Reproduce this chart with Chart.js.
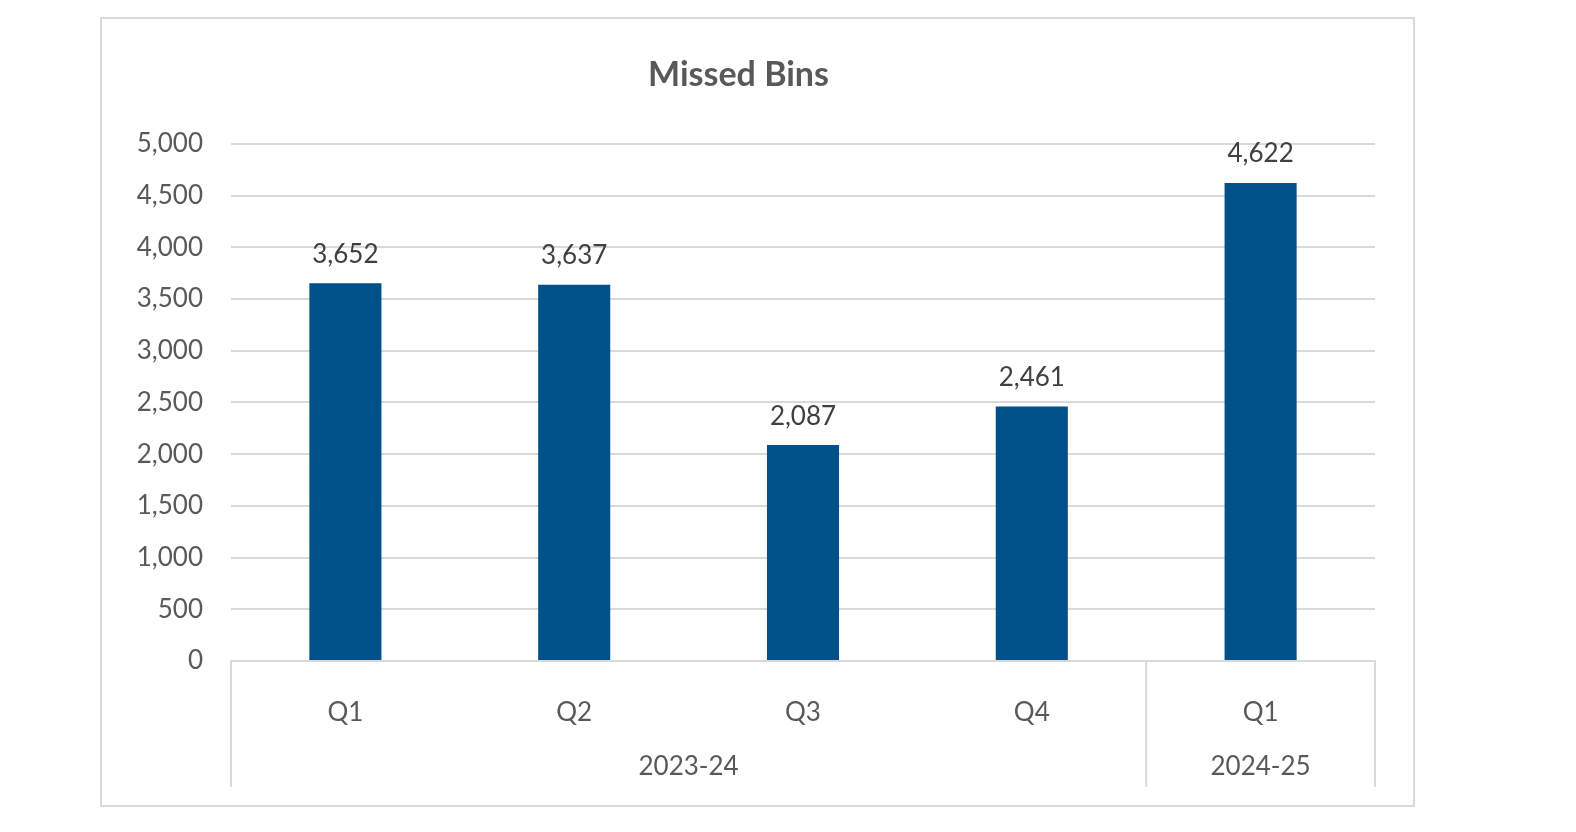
<!DOCTYPE html>
<html>
<head>
<meta charset="utf-8">
<script src="https://cdn.jsdelivr.net/npm/chart.js@4"></script>
<style>
  body { margin: 0; background: #fff; }
  #box { position: absolute; left: 100px; top: 17px; width: 1311px; height: 786px; border: 2px solid #d9d9d9; }
</style>
</head>
<body>
<div id="box"><canvas id="binsChart" width="1311" height="786"></canvas></div>
<script>
const quarters = ['Q1', 'Q2', 'Q3', 'Q4', 'Q1'];
const years = ['2023-24', '2023-24', '2023-24', '2023-24', '2024-25'];
const missedBins = [3652, 3637, 2087, 2461, 4622];

const fontFamily = 'Lato, "Open Sans", sans-serif';

// value labels above bars + year group row under the axis
const extras = {
  id: 'extras',
  afterDatasetsDraw(chart) {
    const ctx = chart.ctx;
    const meta = chart.getDatasetMeta(0);
    ctx.save();
    ctx.font = '26px ' + fontFamily;
    ctx.fillStyle = '#404040';
    ctx.textAlign = 'center';
    ctx.textBaseline = 'bottom';
    meta.data.forEach((bar, i) => {
      ctx.fillText(missedBins[i].toLocaleString('en-US'), bar.x, bar.y - 16);
    });

    const x = chart.scales.x;
    const bottom = chart.chartArea.bottom;
    const half = (x.getPixelForValue(1) - x.getPixelForValue(0)) / 2;
    const groups = [];
    years.forEach((y, i) => {
      const g = groups[groups.length - 1];
      if (g && g.name === y) g.end = i; else groups.push({ name: y, start: i, end: i });
    });
    ctx.strokeStyle = '#d9d9d9';
    ctx.lineWidth = 2;
    const edges = [x.left];
    groups.forEach(g => edges.push(x.getPixelForValue(g.end) + half));
    edges.forEach(px => {
      ctx.beginPath();
      ctx.moveTo(px, bottom);
      ctx.lineTo(px, 768);
      ctx.stroke();
    });
    ctx.fillStyle = '#595959';
    ctx.textBaseline = 'middle';
    groups.forEach(g => {
      const cx = (x.getPixelForValue(g.start) + x.getPixelForValue(g.end)) / 2;
      ctx.fillText(g.name, cx, 748);
    });
    ctx.restore();
  }
};

new Chart(document.getElementById('binsChart'), {
  type: 'bar',
  data: {
    labels: quarters,
    datasets: [{
      data: missedBins,
      backgroundColor: '#00508a',
      barPercentage: 0.63,
      categoryPercentage: 0.5
    }]
  },
  options: {
    responsive: false,
    animation: false,
    layout: { padding: { left: 0, right: 38, top: 0, bottom: 0 } },
    scales: {
      y: {
        min: 0, max: 5000,
        ticks: { stepSize: 500, color: '#595959', font: { size: 26, family: fontFamily }, padding: 28,
          callback: v => v.toLocaleString('en-US') },
        grid: { color: '#d9d9d9', lineWidth: 2, tickLength: 0 },
        border: { display: false },
        afterFit: s => { s.width = 129; }
      },
      x: {
        ticks: { color: '#595959', font: { size: 26, family: fontFamily }, padding: 28 },
        grid: { display: false },
        border: { color: '#d9d9d9', width: 2 },
        afterFit: s => { s.height = 144; }
      }
    },
    plugins: {
      legend: { display: false },
      tooltip: { enabled: false },
      title: {
        display: true,
        text: 'Missed Bins',
        color: '#595959',
        font: { size: 34, weight: 'bold', family: fontFamily },
        padding: { top: 36, bottom: 48 }
      }
    }
  },
  plugins: [extras]
});
</script>
</body>
</html>
